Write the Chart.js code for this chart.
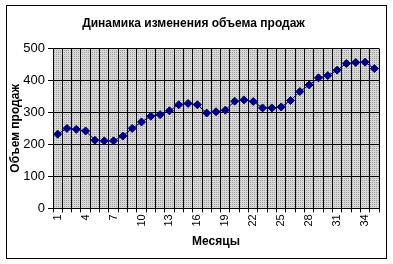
<!DOCTYPE html>
<html>
<head>
<meta charset="utf-8">
<script src="https://cdn.jsdelivr.net/npm/chart.js@4"></script>
<style>
  html, body { margin: 0; padding: 0; background: #fff; }
  #wrap { width: 393px; height: 264px; }
</style>
</head>
<body>
<div id="wrap"><canvas id="chart" width="393" height="264"></canvas></div>
<script>
// Месяцы 1..35
const months = ['1', '2', '3', '4', '5', '6', '7', '8', '9', '10', '11', '12', '13', '14', '15', '16', '17', '18',
  '19', '20', '21', '22', '23', '24', '25', '26', '27', '28', '29', '30', '31', '32', '33', '34', '35'];
// подписи, которые видны на оси X
const shownMonths = ['1', '4', '7', '10', '13', '16', '19', '22', '25', '28', '31', '34'];
// объем продаж
const sales = [232, 250, 247, 242, 213, 211, 211, 226, 250, 270, 288, 293, 305, 324, 328, 324, 298, 302,
  307, 335, 339, 334, 314, 314, 317, 337, 365, 386, 408, 415, 432, 453, 456, 457, 437];
const yTicks = [0, 100, 200, 300, 400, 500];

const font = 'Arial, "Liberation Sans", sans-serif';

// серый "точечный" фон области построения, как в Excel
function makePattern(ctx) {
  const p = document.createElement('canvas');
  p.width = 2;
  p.height = 2;
  const pc = p.getContext('2d');
  pc.fillStyle = '#d6d6d6';
  pc.fillRect(0, 0, 2, 2);
  pc.fillStyle = '#a4a4a4';
  pc.fillRect(0, 0, 1, 1);
  return ctx.createPattern(p, 'repeat');
}

const plotBackground = {
  id: 'plotBackground',
  beforeDraw(chart) {
    const { ctx, chartArea: a } = chart;
    ctx.save();
    ctx.fillStyle = makePattern(ctx);
    ctx.fillRect(a.left, a.top, a.right - a.left, a.bottom - a.top);
    ctx.restore();
  },
  afterDraw(chart) {
    const ctx = chart.ctx;
    ctx.save();
    ctx.strokeStyle = '#000';
    ctx.lineWidth = 1;
    ctx.strokeRect(6.5, 5.5, 380, 253);
    ctx.restore();
  }
};

const ctx = document.getElementById('chart').getContext('2d');

new Chart(ctx, {
  type: 'line',
  data: {
    labels: months,
    datasets: [{
      data: sales,
      borderColor: '#000080',
      backgroundColor: '#000080',
      borderWidth: 1,
      pointStyle: 'rectRot',
      pointRadius: 4,
      pointHoverRadius: 4,
      tension: 0
    }]
  },
  options: {
    responsive: false,
    animation: false,
    layout: {
      padding: { top: 6, right: 14, bottom: 15, left: 8 }
    },
    scales: {
      x: {
        offset: true,
        grid: {
          offset: true,
          color: '#000',
          lineWidth: 1,
          tickLength: 4,
          drawOnChartArea: true
        },
        border: { color: '#000', width: 1 },
        ticks: {
          autoSkip: false,
          maxRotation: 90,
          minRotation: 90,
          padding: 2,
          color: '#000',
          font: { family: font, size: 11 },
          callback: function(value, index) {
            const lbl = months[index];
            return shownMonths.includes(lbl) ? lbl : '';
          }
        },
        title: {
          display: true,
          text: 'Месяцы',
          color: '#000',
          font: { family: font, size: 12, weight: 'bold' },
          padding: { top: 6, bottom: 0 }
        }
      },
      y: {
        min: 0,
        max: 500,
        afterBuildTicks: function(scale) {
          scale.ticks = yTicks.map(v => ({ value: v }));
        },
        afterFit: function(scale) {
          scale.width = 45;
        },
        grid: {
          color: '#000',
          lineWidth: 1,
          tickLength: 5
        },
        border: { color: '#000', width: 1 },
        ticks: {
          padding: 3,
          color: '#000',
          font: { family: font, size: 13 }
        },
        title: {
          display: true,
          text: 'Объем продаж',
          color: '#000',
          font: { family: font, size: 12, weight: 'bold' },
          padding: 0
        }
      }
    },
    plugins: {
      legend: { display: false },
      tooltip: { enabled: false },
      title: {
        display: true,
        text: 'Динамика изменения объема продаж',
        color: '#000',
        font: { family: font, size: 12, weight: 'bold' },
        padding: { top: 10, bottom: 18 }
      }
    }
  },
  plugins: [plotBackground]
});
</script>
</body>
</html>
